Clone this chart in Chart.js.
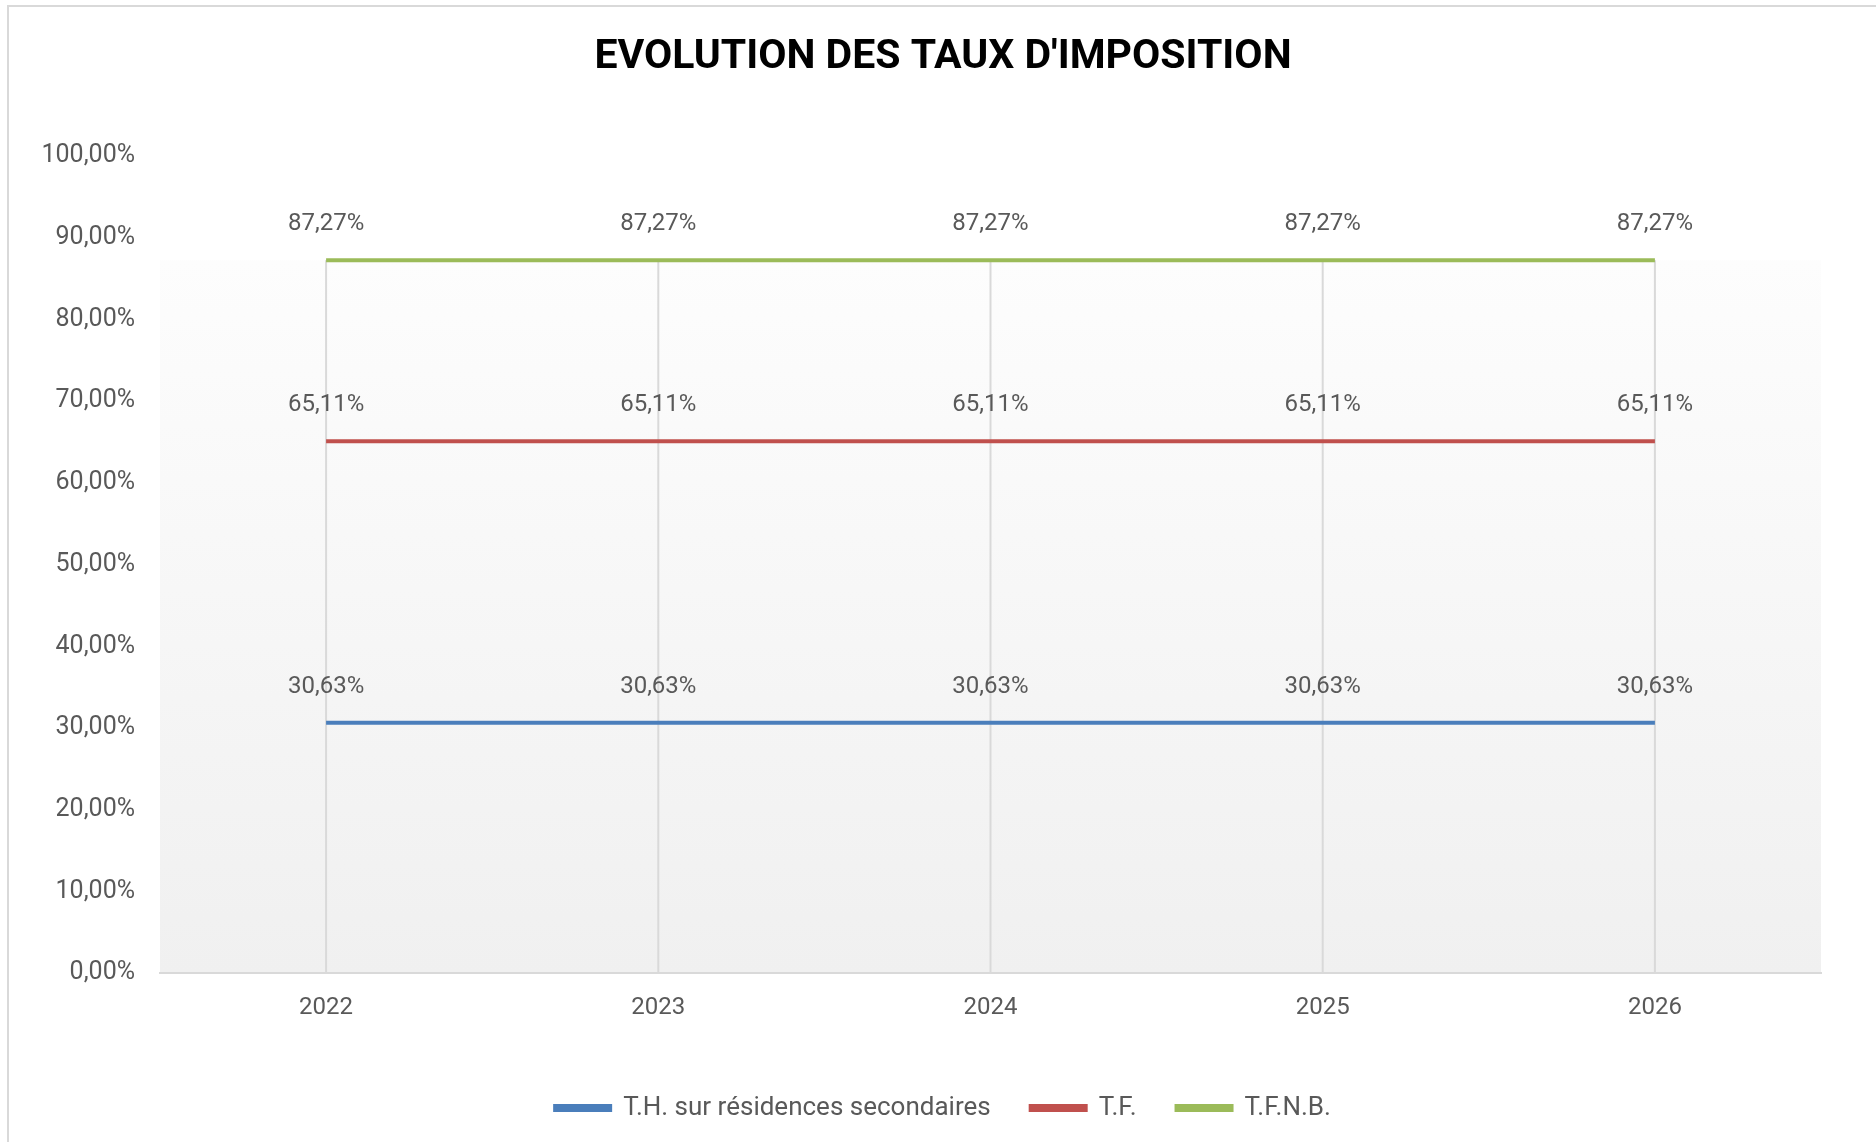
<!DOCTYPE html>
<html>
<head>
<meta charset="utf-8">
<script src="https://cdn.jsdelivr.net/npm/chart.js@4/dist/chart.umd.min.js"></script>
<style>
  html, body { margin: 0; padding: 0; background: #fff; }
  #wrap { width: 1876px; height: 1142px; }
</style>
</head>
<body>
<div id="wrap"><canvas id="graficaTaux"></canvas></div>
<script>
// donnees
const annees = ['2022', '2023', '2024', '2025', '2026'];
const tauxTH = [30.63, 30.63, 30.63, 30.63, 30.63];
const tauxTF = [65.11, 65.11, 65.11, 65.11, 65.11];
const tauxTFNB = [87.27, 87.27, 87.27, 87.27, 87.27];
const ticksY = [0, 10, 20, 30, 40, 50, 60, 70, 80, 90, 100];

const police = 'Roboto, "Liberation Sans", sans-serif';
const gris = '#595959';

function pourcent(v) {
  return v.toFixed(2).replace('.', ',') + '%';
}

// cadre + fond degrade + lignes de projection
const fondPlugin = {
  id: 'fond',
  beforeDraw(chart) {
    const ctx = chart.ctx;
    const area = chart.chartArea;
    const y = chart.scales.y;
    const x = chart.scales.x;
    ctx.save();
    ctx.strokeStyle = '#d9d9d9';
    ctx.lineWidth = 2;
    ctx.strokeRect(8, 6, chart.width, chart.height);

    const top = y.getPixelForValue(Math.max(...tauxTFNB, ...tauxTF, ...tauxTH));
    const grad = ctx.createLinearGradient(0, top, 0, area.bottom);
    grad.addColorStop(0, '#fdfdfd');
    grad.addColorStop(1, '#f0f0f0');
    ctx.fillStyle = grad;
    ctx.fillRect(area.left, top, area.right - area.left, area.bottom - top);

    ctx.strokeStyle = '#d9d9d9';
    ctx.lineWidth = 2;
    annees.forEach((a, i) => {
      const px = x.getPixelForValue(i);
      const hi = Math.max(tauxTH[i], tauxTF[i], tauxTFNB[i]);
      ctx.beginPath();
      ctx.moveTo(px, y.getPixelForValue(hi));
      ctx.lineTo(px, area.bottom);
      ctx.stroke();
    });
    ctx.restore();
  }
};

// etiquettes de valeurs
const etiquettesPlugin = {
  id: 'etiquettes',
  afterDatasetsDraw(chart) {
    const ctx = chart.ctx;
    ctx.save();
    ctx.font = '24px ' + police;
    ctx.fillStyle = gris;
    ctx.textAlign = 'center';
    ctx.textBaseline = 'middle';
    chart.data.datasets.forEach((ds, i) => {
      const meta = chart.getDatasetMeta(i);
      meta.data.forEach((pt, j) => {
        ctx.fillText(pourcent(ds.data[j]), pt.x, pt.y - 36);
      });
    });
    ctx.restore();
  }
};

function crearGraficoTaux() {
  const ctx = document.getElementById('graficaTaux').getContext('2d');
  return new Chart(ctx, {
    type: 'line',
    data: {
      labels: annees,
      datasets: [{
        label: 'T.H. sur résidences secondaires',
        data: tauxTH,
        borderColor: '#4a7ebb',
        backgroundColor: '#4a7ebb',
        borderWidth: 4,
        pointRadius: 0
      }, {
        label: 'T.F.',
        data: tauxTF,
        borderColor: '#c0504d',
        backgroundColor: '#c0504d',
        borderWidth: 4,
        pointRadius: 0
      }, {
        label: 'T.F.N.B.',
        data: tauxTFNB,
        borderColor: '#9bbb59',
        backgroundColor: '#9bbb59',
        borderWidth: 4,
        pointRadius: 0
      }]
    },
    options: {
      responsive: true,
      maintainAspectRatio: false,
      animation: false,
      layout: { padding: { left: 10, right: 0, top: 0, bottom: 11 } },
      plugins: {
        title: {
          display: true,
          text: "EVOLUTION DES TAUX D'IMPOSITION",
          color: '#000',
          font: { family: police, size: 41, weight: 'bold' },
          padding: { top: 33, bottom: 74 }
        },
        legend: {
          position: 'bottom',
          labels: {
            color: gris,
            font: { family: police, size: 26 },
            boxWidth: 55,
            boxHeight: 4,
            padding: 40
          }
        },
        tooltip: { enabled: false }
      },
      scales: {
        x: {
          offset: true,
          grid: { display: false, drawTicks: false },
          border: { color: '#d9d9d9', width: 2 },
          ticks: { color: gris, font: { family: police, size: 24 }, padding: 21 },
          afterFit(scale) { scale.height = 82; }
        },
        y: {
          min: 0,
          max: 100,
          afterBuildTicks(scale) { scale.ticks = ticksY.map(v => ({ value: v })); },
          grid: { display: false, drawTicks: false },
          border: { display: false },
          ticks: {
            color: gris,
            font: { family: police, size: 25 },
            padding: 25,
            callback: v => pourcent(v)
          },
          afterFit(scale) { scale.width = 150; }
        },
        marge: {
          position: 'right',
          display: true,
          grid: { display: false, drawTicks: false },
          border: { display: false },
          ticks: { display: false },
          afterFit(scale) { scale.width = 55; }
        }
      }
    },
    plugins: [fondPlugin, etiquettesPlugin]
  });
}

crearGraficoTaux();
</script>
</body>
</html>
